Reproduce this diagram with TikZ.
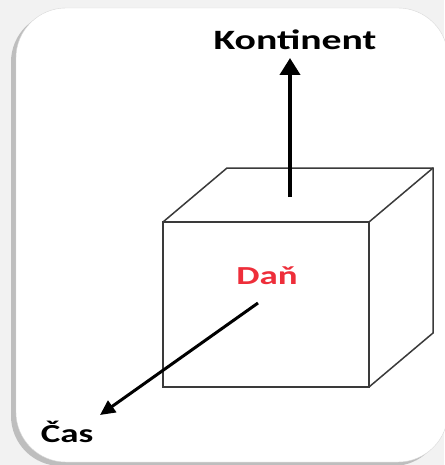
\documentclass[tikz,border=0pt]{standalone}
\usepackage{fontspec}
\newfontfamily\lblfont[FakeStretch=1.42]{Carlito}
\usepackage{tikz}
\usetikzlibrary{arrows.meta,positioning,shadows}
\definecolor{pbg}{HTML}{F2F2F2}
\definecolor{pedge}{HTML}{3A3A3A}
\definecolor{pred}{HTML}{EE2E3A}
\tikzset{
  card/.style  = {fill=white, draw=gray!30, rounded corners=50pt,
                  drop shadow={shadow xshift=-5pt, shadow yshift=-4pt, opacity=0.45, fill=gray}},
  edge/.style  = {draw=pedge, line width=1.5pt, line join=miter},
  axis/.style  = {-{Triangle[length=17pt,width=20pt]}, line width=4pt, black},
  daxis/.style = {-{Triangle[length=15pt,width=14pt]}, line width=3pt, black},
  lbl/.style   = {font=\lblfont\bfseries\fontsize{26}{28}\selectfont, inner sep=0pt},
}
\begin{document}
\begin{tikzpicture}[x=1pt, y=-1pt]
\useasboundingbox (0,0) rectangle (444,465);
\fill[pbg] (0,0) rectangle (444,465);
\path[card] (16,8) rectangle (448,462);

% cube corners
\coordinate (fa) at (163,222);
\coordinate (fb) at (369,222);
\coordinate (fc) at (369,387);
\coordinate (fd) at (163,387);
\coordinate (ba) at (227,168);
\coordinate (bb) at (433,168);
\coordinate (bc) at (433,333);
\draw[edge] (fa) -- (fb) -- (fc) -- (fd) -- cycle;
\draw[edge] (fa) -- (ba) -- (bb) -- (bc) -- (fc);
\draw[edge] (fb) -- (bb);

% labels
\node[lbl, font=\lblfont\bfseries\fontsize{28}{30}\selectfont] (kont) at (295,40) {Kontinent};
\node[lbl, text=pred] (dan) at (267,276) {Daň};
\node[lbl] (cas) at (67,432) {Čas};

% axes
\coordinate (korig) at (290,197);
\coordinate (ktip) at (290,58);
\coordinate (corig) at (258,303);
\coordinate (ctip) at (100,415);
\draw[axis] (korig) -- (ktip);
\draw[daxis] (corig) -- (ctip);
\end{tikzpicture}
\end{document}
